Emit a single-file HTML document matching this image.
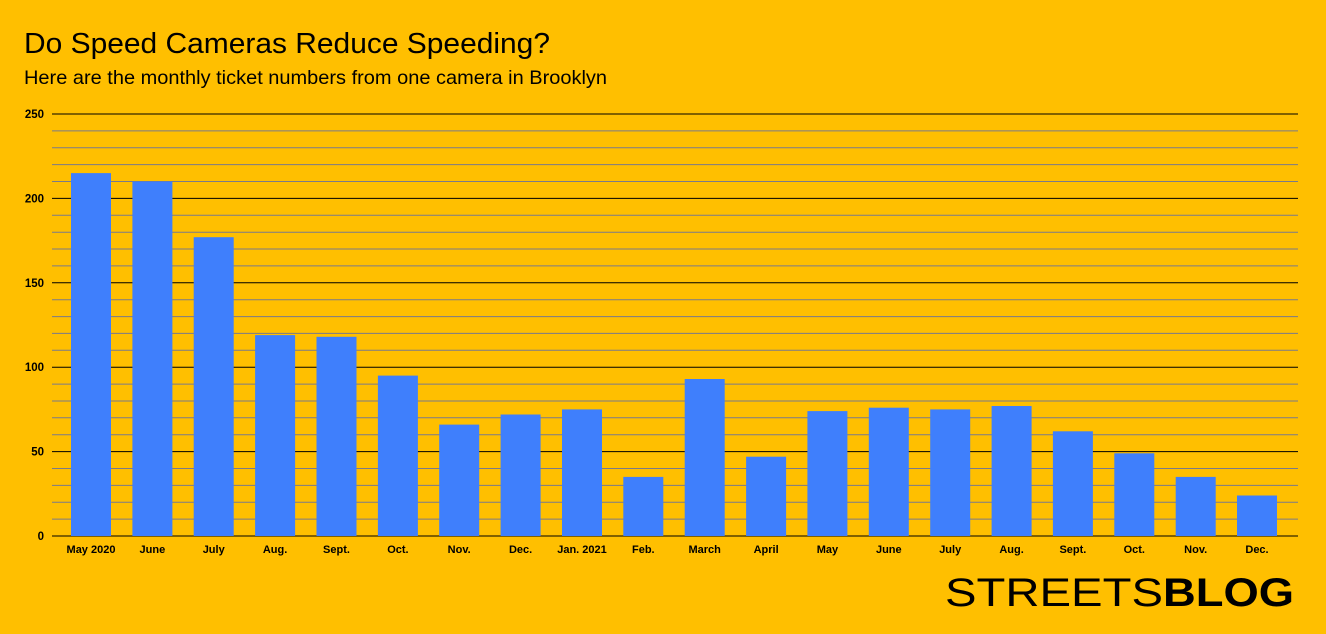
<!DOCTYPE html>
<html><head><meta charset="utf-8"><style>
html,body{margin:0;padding:0;background:#FFBF00;}
svg{display:block;font-family:"Liberation Sans",Arial,sans-serif;}
</style></head><body>
<svg width="1326" height="634" viewBox="0 0 1326 634" xmlns="http://www.w3.org/2000/svg">
<rect width="1326" height="634" fill="#FFBF00"/>
<text x="24" y="53" font-size="29" fill="#000" textLength="526" lengthAdjust="spacingAndGlyphs">Do Speed Cameras Reduce Speeding?</text>
<text x="24" y="84" font-size="19.5" fill="#000" textLength="583" lengthAdjust="spacingAndGlyphs">Here are the monthly ticket numbers from one camera in Brooklyn</text>
<g stroke="#7a7a8a" stroke-width="1">
<line x1="52" x2="1298" y1="519.1" y2="519.1"/><line x1="52" x2="1298" y1="502.2" y2="502.2"/><line x1="52" x2="1298" y1="485.4" y2="485.4"/><line x1="52" x2="1298" y1="468.5" y2="468.5"/>
<line x1="52" x2="1298" y1="434.7" y2="434.7"/><line x1="52" x2="1298" y1="417.8" y2="417.8"/><line x1="52" x2="1298" y1="401" y2="401"/><line x1="52" x2="1298" y1="384.1" y2="384.1"/>
<line x1="52" x2="1298" y1="350.3" y2="350.3"/><line x1="52" x2="1298" y1="333.4" y2="333.4"/><line x1="52" x2="1298" y1="316.6" y2="316.6"/><line x1="52" x2="1298" y1="299.7" y2="299.7"/>
<line x1="52" x2="1298" y1="265.9" y2="265.9"/><line x1="52" x2="1298" y1="249" y2="249"/><line x1="52" x2="1298" y1="232.2" y2="232.2"/><line x1="52" x2="1298" y1="215.3" y2="215.3"/>
<line x1="52" x2="1298" y1="181.5" y2="181.5"/><line x1="52" x2="1298" y1="164.6" y2="164.6"/><line x1="52" x2="1298" y1="147.8" y2="147.8"/><line x1="52" x2="1298" y1="130.9" y2="130.9"/>
</g>
<g stroke="#000" stroke-width="1">
<line x1="52" x2="1298" y1="536" y2="536"/><line x1="52" x2="1298" y1="451.6" y2="451.6"/><line x1="52" x2="1298" y1="367.2" y2="367.2"/><line x1="52" x2="1298" y1="282.8" y2="282.8"/><line x1="52" x2="1298" y1="198.4" y2="198.4"/><line x1="52" x2="1298" y1="114" y2="114"/>
</g>
<g font-size="11.5" font-weight="bold" text-anchor="end" fill="#000">
<text x="44" y="540">0</text><text x="44" y="455.6">50</text><text x="44" y="371.2">100</text><text x="44" y="286.8">150</text><text x="44" y="202.4">200</text><text x="44" y="118">250</text>
</g>
<g fill="#3F7FFC">
<rect x="71" y="173.1" width="40" height="362.9"/>
<rect x="132.4" y="181.5" width="40" height="354.5"/>
<rect x="193.7" y="237.2" width="40" height="298.8"/>
<rect x="255.1" y="335.1" width="40" height="200.9"/>
<rect x="316.5" y="336.8" width="40" height="199.2"/>
<rect x="377.9" y="375.6" width="40" height="160.4"/>
<rect x="439.2" y="424.6" width="40" height="111.4"/>
<rect x="500.6" y="414.5" width="40" height="121.5"/>
<rect x="562" y="409.4" width="40" height="126.6"/>
<rect x="623.3" y="476.9" width="40" height="59.1"/>
<rect x="684.7" y="379" width="40" height="157"/>
<rect x="746.1" y="456.7" width="40" height="79.3"/>
<rect x="807.4" y="411.1" width="40" height="124.9"/>
<rect x="868.8" y="407.7" width="40" height="128.3"/>
<rect x="930.2" y="409.4" width="40" height="126.6"/>
<rect x="991.6" y="406" width="40" height="130"/>
<rect x="1052.9" y="431.3" width="40" height="104.7"/>
<rect x="1114.3" y="453.3" width="40" height="82.7"/>
<rect x="1175.7" y="476.9" width="40" height="59.1"/>
<rect x="1237" y="495.5" width="40" height="40.5"/>
</g>
<g font-size="11" font-weight="bold" text-anchor="middle" fill="#000">
<text x="91" y="553">May 2020</text><text x="152.4" y="553">June</text><text x="213.7" y="553">July</text><text x="275.1" y="553">Aug.</text><text x="336.5" y="553">Sept.</text><text x="397.9" y="553">Oct.</text><text x="459.2" y="553">Nov.</text><text x="520.6" y="553">Dec.</text><text x="582" y="553">Jan. 2021</text><text x="643.3" y="553">Feb.</text><text x="704.7" y="553">March</text><text x="766.1" y="553">April</text><text x="827.4" y="553">May</text><text x="888.8" y="553">June</text><text x="950.2" y="553">July</text><text x="1011.6" y="553">Aug.</text><text x="1072.9" y="553">Sept.</text><text x="1134.3" y="553">Oct.</text><text x="1195.7" y="553">Nov.</text><text x="1257" y="553">Dec.</text>
</g>
<text x="945" y="606" font-size="40" fill="#000" textLength="218" lengthAdjust="spacingAndGlyphs">STREETS</text>
<text x="1163" y="606" font-size="40" font-weight="bold" fill="#000" textLength="131" lengthAdjust="spacingAndGlyphs">BLOG</text>
</svg>
</body></html>
